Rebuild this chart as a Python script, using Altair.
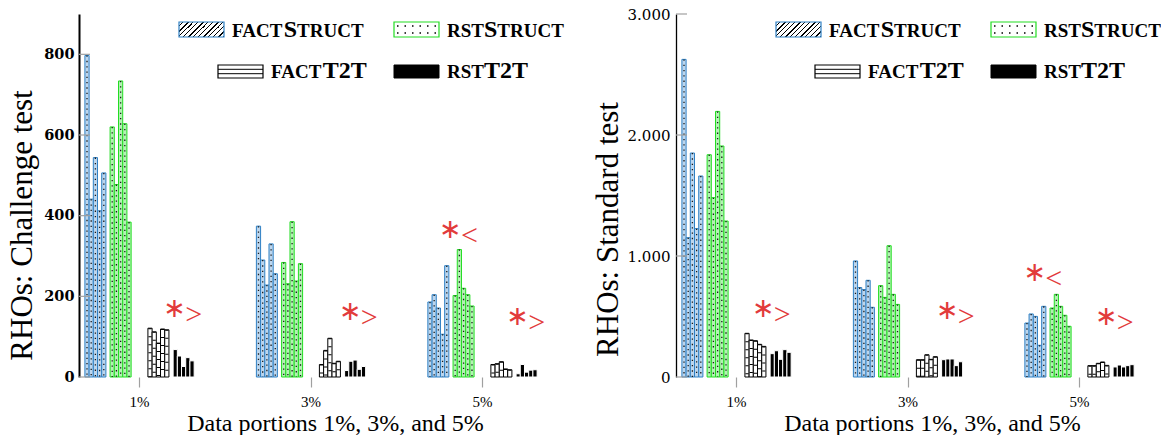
import altair as alt
import pandas as pd

portions = ["1%", "3%", "5%"]
subgroups = ["factStruct", "rstStruct", "factT2T", "rstT2T"]
runs = [0, 1, 2, 3, 4]

# Challenge test (left panel): one list of 5 runs per data portion
ch_factStruct = [[797, 441, 544, 412, 506], [374, 290, 228, 330, 256], [186, 204, 171, 106, 276]]
ch_rstStruct = [[620, 477, 734, 628, 384], [284, 231, 385, 238, 281], [202, 316, 220, 204, 176]]
ch_factT2T = [[121, 112, 84, 119, 117], [31, 66, 96, 34, 39], [31, 33, 38, 20, 18]]
ch_rstT2T = [[68, 52, 26, 48, 40], [16, 39, 42, 19, 26], [8, 31, 12, 17, 18]]

# Standard test (right panel)
st_factStruct = [[2625, 1151, 1851, 1226, 1661], [959, 739, 722, 799, 576], [446, 521, 501, 262, 584]]
st_rstStruct = [[1837, 1482, 2195, 1909, 1289], [755, 658, 1085, 683, 600], [570, 683, 584, 510, 419]]
st_factT2T = [[361, 306, 300, 270, 253], [143, 143, 184, 146, 168], [94, 94, 113, 124, 96]]
st_rstT2T = [[193, 217, 146, 226, 204], [143, 149, 149, 94, 126], [83, 99, 83, 94, 102]]

# significance annotations: portion, anchor slot, value, sign
ch_ann_portion = ["1%", "3%", "5%", "5%"]
ch_ann_slot = ["rstT2T2", "rstT2T3", "rstStruct1", "rstT2T2"]
ch_ann_value = [161, 154, 358, 142]
ch_ann_sign = [">", ">", "<", ">"]
st_ann_portion = ["1%", "3%", "5%", "5%"]
st_ann_slot = ["rstT2T0", "rstT2T3", "factStruct4", "rstT2T0"]
st_ann_value = [537, 521, 835, 471]
st_ann_sign = [">", ">", "<", ">"]

ch_ticks = [0, 200, 400, 600, 800]
st_ticks = [0, 1000, 2000, 3000]

slot_domain = ([f"factStruct{i}" for i in runs] + ["gap_a"] +
               [f"rstStruct{i}" for i in runs] + ["gap_b1", "gap_b2", "gap_b3", "gap_b4"] +
               [f"factT2T{i}" for i in runs] + ["gap_c"] +
               [f"rstT2T{i}" for i in runs])

W, H = 464, 363
SERIF = "Liberation Serif"
RED = "#e23b3b"
BLUE = "#2f80c4"
GREEN = "#22dd22"


def build_df(series):
    rows = []
    for sg, vals in zip(subgroups, series):
        for pi, p in enumerate(portions):
            for r in runs:
                rows.append({"portion": p, "subgroup": sg, "slot": f"{sg}{r}", "value": vals[pi][r]})
    return pd.DataFrame(rows)


def hatch_gradient():
    n = 12
    stops = []
    for k in range(n):
        a = k / n
        b = (k + 0.72) / n
        c = (k + 1) / n
        stops += [alt.GradientStop(offset=round(a, 4), color="white"),
                  alt.GradientStop(offset=round(b, 4), color="white"),
                  alt.GradientStop(offset=round(b, 4), color="black"),
                  alt.GradientStop(offset=round(c, 4), color="black")]
    return alt.LinearGradient(gradient="linear", stops=stops, x1=0, y1=0, x2=1.2, y2=0.4)


def text_width(s, size):
    w = {"A": .722, "C": .722, "F": .611, "R": .722, "S": .556, "T": .667, "U": .722, "2": .5}
    return sum(w[ch] for ch in s) * size


def legend_layers():
    one = pd.DataFrame({"k": [0]})
    base = alt.Chart(one)
    small, big = 19, 24
    layers = []
    # swatches
    layers.append(base.mark_rect(fill=hatch_gradient(), stroke=BLUE, strokeWidth=1.2).encode(
        x=alt.value(100), x2=alt.value(145), y=alt.value(8), y2=alt.value(23)))
    layers.append(base.mark_rect(fill="white", stroke=GREEN, strokeWidth=1.2).encode(
        x=alt.value(315), x2=alt.value(360), y=alt.value(8), y2=alt.value(23)))
    for yy in (12, 19):
        layers.append(base.mark_rule(color="black", strokeWidth=1.6, strokeDash=[1.5, 6]).encode(
            x=alt.value(318), x2=alt.value(359), y=alt.value(yy)))
    layers.append(base.mark_rect(fill="white", stroke="black", strokeWidth=1.2).encode(
        x=alt.value(139), x2=alt.value(184), y=alt.value(51), y2=alt.value(64)))
    for yy in (55.3, 59.7):
        layers.append(base.mark_rule(color="black", strokeWidth=1).encode(
            x=alt.value(139), x2=alt.value(184), y=alt.value(yy)))
    layers.append(base.mark_rect(fill="black", stroke="black", strokeWidth=1).encode(
        x=alt.value(315), x2=alt.value(360), y=alt.value(51), y2=alt.value(64)))
    # labels in small caps style
    labels = [
        (153, 23, [("FACT", small), ("S", big), ("TRUCT", small)]),
        (368, 23, [("RST", small), ("S", big), ("TRUCT", small)]),
        (192, 64, [("FACT", small), ("T2T", big)]),
        (368, 64, [("RST", small), ("T2T", big)]),
    ]
    for x0, yb, pieces in labels:
        xx = x0
        for s, size in pieces:
            layers.append(base.mark_text(align="left", baseline="alphabetic", font=SERIF,
                                         fontWeight="bold", fontSize=size, color="black").encode(
                x=alt.value(xx), y=alt.value(yb), text=alt.value(s)))
            xx += text_width(s, size)
    return layers


def panel(series, ann, ticks, ymax, yaxis):
    df = build_df(series)
    xaxis = alt.Axis(title="Data portions 1%, 3%, and 5%", domain=False, tickColor="#a0a0a0",
                     tickSize=10, tickWidth=1.2, labelFont=SERIF, labelFontSize=15, labelColor="black",
                     labelPadding=7, labelAngle=0, titleFont=SERIF, titleFontSize=24,
                     titleFontWeight="normal", titleColor="black", titleX=256, titleY=34,
                     titleBaseline="top", grid=False)
    x = alt.X("portion:N", scale=alt.Scale(domain=portions, paddingInner=0.363, paddingOuter=0.0344),
              axis=xaxis)
    xo = alt.XOffset("slot:N", scale=alt.Scale(domain=slot_domain, paddingInner=0, paddingOuter=0))
    y = alt.Y("value:Q", scale=alt.Scale(domain=[0, ymax], nice=False, zero=True), axis=yaxis)

    base = alt.Chart(df)
    bars = base.mark_bar(strokeWidth=1).encode(
        x=x, xOffset=xo, y=y,
        fill=alt.Fill("subgroup:N", scale=alt.Scale(domain=subgroups,
                                                     range=["#bcd6ee", "#b3f2b3", "white", "black"]),
                      legend=None),
        stroke=alt.Stroke("subgroup:N", scale=alt.Scale(domain=subgroups,
                                                         range=[BLUE, GREEN, "black", "white"]),
                          legend=None))
    dots = base.transform_filter(
        alt.FieldOneOfPredicate(field="subgroup", oneOf=["factStruct", "rstStruct"])
    ).mark_rule(strokeDash=[1.3, 4], strokeWidth=1.3, color="#1a1a1a").encode(
        x=x, xOffset=xo, y=y, y2=alt.datum(0))
    hlines = base.transform_filter(alt.datum.subgroup == "factT2T").mark_rule(
        strokeDash=[1, 7], strokeWidth=3.2, color="black").encode(
        x=x, xOffset=xo, y=y, y2=alt.datum(0))

    tick_df = pd.DataFrame({"value": ticks})
    yticks = alt.Chart(tick_df).mark_rule(color="#a0a0a0", strokeWidth=1.2).encode(
        y=y, x=alt.value(0), x2=alt.value(11))

    ann_df = pd.DataFrame({"portion": ann[0], "slot": ann[1], "value": ann[2], "sign": ann[3]})
    star = alt.Chart(ann_df).mark_text(text="∗", font="DejaVu Sans", fontSize=27, color=RED,
                                       align="center", baseline="middle", dx=-9, dy=-3).encode(
        x=x, xOffset=xo, y=y)
    chev = alt.Chart(ann_df).mark_text(font=SERIF, fontSize=30, color=RED,
                                       align="center", baseline="middle", dx=10, dy=3).encode(
        x=x, xOffset=xo, y=y, text="sign:N")

    layers = [bars, dots, hlines, yticks, star, chev] + legend_layers()
    return alt.layer(*layers).properties(width=W, height=H)


left_axis = alt.Axis(values=ch_ticks, ticks=False, domainColor="black", domainWidth=2,
                     labelFont="DejaVu Serif", labelFontWeight="bold", labelFontSize=14.5,
                     labelColor="black", labelPadding=5, title="RHOs: Challenge test",
                     titleFont=SERIF, titleFontSize=31, titleFontWeight="normal", titleColor="black",
                     titleX=-48, titleY=211, titleAngle=270, titleBaseline="alphabetic",
                     titleAlign="center", grid=False)
right_axis = alt.Axis(values=st_ticks, ticks=False, domainColor="black", domainWidth=1.3,
                      labelFont="DejaVu Serif", labelFontSize=15, labelColor="black", labelPadding=6,
                      labelExpr="replace(datum.label, ',', '.')", title="RHOs: Standard test",
                      titleFont=SERIF, titleFontSize=31, titleFontWeight="normal", titleColor="black",
                      titleX=-59, titleY=215, titleAngle=270, titleBaseline="alphabetic",
                      titleAlign="center", grid=False)

left = panel([ch_factStruct, ch_rstStruct, ch_factT2T, ch_rstT2T],
             (ch_ann_portion, ch_ann_slot, ch_ann_value, ch_ann_sign), ch_ticks, 900, left_axis)
right = panel([st_factStruct, st_rstStruct, st_factT2T, st_rstT2T],
              (st_ann_portion, st_ann_slot, st_ann_value, st_ann_sign), st_ticks, 3000, right_axis)

chart = alt.hconcat(left, right, spacing=133, bounds="flush").properties(
    padding={"left": 5, "top": 7, "right": 0, "bottom": 0}
).configure_view(strokeWidth=0)

chart.save("out.html", embed_options={"renderer": "svg", "actions": False})
